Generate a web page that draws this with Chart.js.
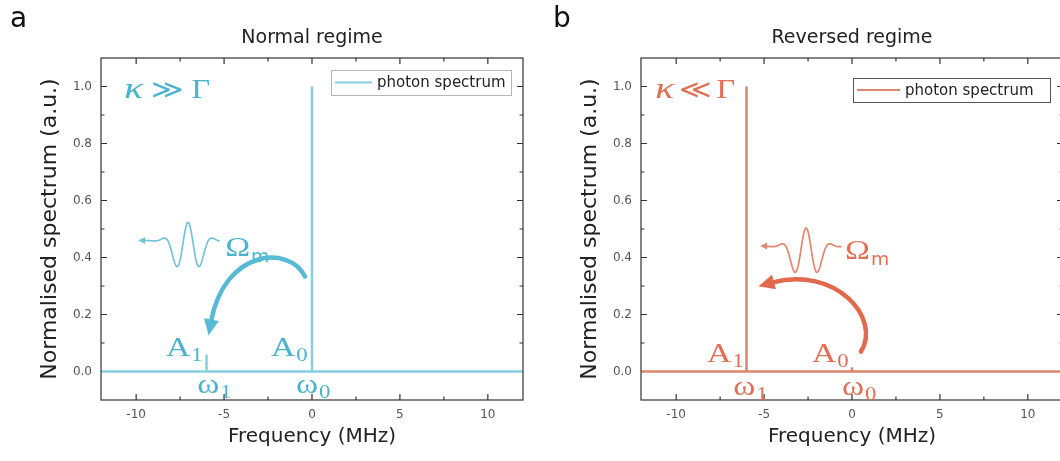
<!DOCTYPE html>
<html>
<head>
<meta charset="utf-8">
<script src="https://cdn.jsdelivr.net/npm/chart.js@4.4.1/dist/chart.umd.min.js"></script>
<style>
  html, body { margin: 0; padding: 0; background: #fff; overflow: hidden; }
  body { width: 1060px; height: 461px; position: relative; }
  .panel { position: absolute; top: 0; width: 540px; height: 461px; }
  #wrap-a { left: 0; }
  #wrap-b { left: 540px; }
</style>
</head>
<body>
<div class="panel" id="wrap-a"><canvas id="chart-a" width="540" height="461"></canvas></div>
<div class="panel" id="wrap-b"><canvas id="chart-b" width="540" height="461"></canvas></div>
<script>
// Axis ticks
const xTicks = [-10, -5, 0, 5, 10];
const yTicks = [0, 0.2, 0.4, 0.6, 0.8, 1.0];

// Photon spectrum, normal regime (peak at w0, tiny sideband at w1)
const freqNormal = [-12, -6, -6, -6, 0, 0, 0, 12];
const specNormal = [0, 0, 0.06, 0, 0, 1.0, 0, 0];

// Photon spectrum, reversed regime (peak at w1)
const freqReversed = [-12, -6, -6, -6, 0, 0, 0, 12];
const specReversed = [0, 0, 1.0, 0, 0, 0.015, 0, 0];

const seriesLabel = 'photon spectrum';
const xTitle = 'Frequency (MHz)';
const yTitle = 'Normalised spectrum (a.u.)';

const SERIF = '"Liberation Serif", "DejaVu Serif", serif';
const SANS = '"DejaVu Sans", sans-serif';

// draw text stretched horizontally, returns drawn width
function stretchText(ctx, str, x, y, font, sx) {
    ctx.save();
    ctx.translate(x, y);
    ctx.scale(sx, 1);
    ctx.font = font;
    ctx.fillText(str, 0, 0);
    const w = ctx.measureText(str).width * sx;
    ctx.restore();
    return w;
}

const decor = {
    id: 'decor',
    afterDraw(chart, args, o) {
        const { ctx, chartArea: a, scales: { x, y } } = chart;
        const px = v => x.getPixelForValue(v);
        const py = v => y.getPixelForValue(v);
        ctx.save();

        // frame + inward ticks on all four sides
        ctx.strokeStyle = '#333';
        ctx.lineWidth = 1.2;
        ctx.strokeRect(a.left, a.top, a.right - a.left, a.bottom - a.top);
        const xMinor = xTicks.slice(0, -1).map((v, i) => (v + xTicks[i + 1]) / 2);
        const yMinor = yTicks.slice(0, -1).map((v, i) => (v + yTicks[i + 1]) / 2);
        const tickX = (v, len) => {
            const p = px(v);
            ctx.beginPath();
            ctx.moveTo(p, a.bottom); ctx.lineTo(p, a.bottom - len);
            ctx.moveTo(p, a.top); ctx.lineTo(p, a.top + len);
            ctx.stroke();
        };
        const tickY = (v, len) => {
            const p = py(v);
            ctx.beginPath();
            ctx.moveTo(a.left, p); ctx.lineTo(a.left + len, p);
            ctx.moveTo(a.right, p); ctx.lineTo(a.right - len, p);
            ctx.stroke();
        };
        xTicks.forEach(v => tickX(v, 6));
        xMinor.forEach(v => tickX(v, 3.5));
        yTicks.filter(v => v !== 0).forEach(v => tickY(v, 6));
        yMinor.forEach(v => tickY(v, 3.5));

        // panel letter and title
        ctx.fillStyle = '#111';
        ctx.textBaseline = 'alphabetic';
        ctx.textAlign = 'left';
        ctx.font = '28px ' + SANS;
        ctx.fillText(o.letter, o.letterX, 27);
        ctx.fillStyle = '#222';
        ctx.font = '19px ' + SANS;
        ctx.textAlign = 'center';
        ctx.fillText(o.title, (a.left + a.right) / 2, 43);

        // legend box
        const lg = o.legend;
        const bx = a.right - lg.right - lg.w, by = a.top + lg.top;
        ctx.fillStyle = '#fff';
        ctx.fillRect(bx, by, lg.w, lg.h);
        ctx.strokeStyle = lg.border;
        ctx.lineWidth = 1;
        ctx.strokeRect(bx + 0.5, by + 0.5, lg.w, lg.h);
        const ds = chart.data.datasets[0];
        ctx.strokeStyle = ds.borderColor;
        ctx.lineWidth = 2;
        ctx.beginPath();
        ctx.moveTo(bx + 4, by + lg.h / 2);
        ctx.lineTo(bx + 4 + lg.sample, by + lg.h / 2);
        ctx.stroke();
        ctx.fillStyle = '#222';
        ctx.font = '15px ' + SANS;
        ctx.textAlign = 'left';
        ctx.textBaseline = 'middle';
        ctx.fillText(ds.label, bx + lg.sample + 9, by + lg.h / 2 + 1);

        // annotations
        const n = o.notes;
        ctx.textBaseline = 'alphabetic';
        ctx.textAlign = 'left';
        ctx.fillStyle = o.textColor;
        const sx = 1.2;

        // kappa relation
        let cx = px(n.relation.x);
        const cy = py(n.relation.y);
        cx += stretchText(ctx, 'κ', cx, cy, 'italic 29px ' + SERIF, 1.35) + n.relation.gap;
        cx += stretchText(ctx, n.relation.sym, cx, cy, '26px "DejaVu Serif", serif', 1.2) + n.relation.gap;
        stretchText(ctx, 'Γ', cx, cy, '28px ' + SERIF, 1.15);

        // A and omega labels with subscripts
        n.labels.forEach(l => {
            const lx = px(l.x), ly = py(l.y);
            const w = stretchText(ctx, l.t, lx, ly, '28px ' + SERIF, sx);
            stretchText(ctx, l.sub, lx + w + 1, ly + 5, '19px ' + SERIF, sx);
        });

        // Omega_m
        const ox = px(n.omega.x), oy = py(n.omega.y);
        const ow = stretchText(ctx, 'Ω', ox, oy, '28px ' + SERIF, sx);
        stretchText(ctx, 'm', ox + ow + 1, oy + 6, '17px ' + SANS, 1.1);

        // wave packet travelling left
        const tip = px(n.wave.tip), wc = px(n.wave.center), we = px(n.wave.end), wy = py(n.wave.y);
        ctx.strokeStyle = o.waveColor;
        ctx.lineWidth = 1.7;
        ctx.lineJoin = 'round';
        ctx.beginPath();
        for (let xx = tip; xx <= we; xx += 0.5) {
            const d = xx - wc;
            const env = Math.exp(-(d / 17) * (d / 17));
            const yy = wy + env * (12 - 30 * Math.cos(2 * Math.PI * d / 25));
            if (xx === tip) ctx.moveTo(xx, yy); else ctx.lineTo(xx, yy);
        }
        ctx.stroke();
        ctx.fillStyle = o.waveColor;
        ctx.beginPath();
        ctx.moveTo(tip - 2, wy);
        ctx.lineTo(tip + 5, wy - 3.5);
        ctx.lineTo(tip + 5, wy + 3.5);
        ctx.closePath();
        ctx.fill();

        // curved transfer arrow, head follows the end tangent
        const P = n.arrow.map(([vx, vy]) => [px(vx), py(vy)]);
        ctx.strokeStyle = o.arrowColor;
        ctx.fillStyle = o.arrowColor;
        ctx.lineWidth = 4.5;
        ctx.lineCap = 'round';
        ctx.beginPath();
        ctx.moveTo(P[0][0], P[0][1]);
        ctx.bezierCurveTo(P[1][0], P[1][1], P[2][0], P[2][1], P[3][0], P[3][1]);
        ctx.stroke();
        let dx = P[3][0] - P[2][0], dy = P[3][1] - P[2][1];
        const len = Math.hypot(dx, dy);
        dx /= len; dy /= len;
        const tx = P[3][0] + dx * 14, ty = P[3][1] + dy * 14;
        const bxh = P[3][0] - dx * 2, byh = P[3][1] - dy * 2;
        ctx.beginPath();
        ctx.moveTo(tx, ty);
        ctx.lineTo(bxh - dy * 7.5, byh + dx * 7.5);
        ctx.lineTo(bxh + dy * 7.5, byh - dx * 7.5);
        ctx.closePath();
        ctx.fill();

        ctx.restore();
    }
};

function makeChart(id, freq, spec, color, decorOpts) {
    return new Chart(document.getElementById(id), {
        type: 'line',
        data: {
            datasets: [{
                label: seriesLabel,
                data: freq.map((f, i) => ({ x: f, y: spec[i] })),
                borderColor: color,
                borderWidth: 2.5,
                pointRadius: 0,
                tension: 0
            }]
        },
        options: {
            responsive: false,
            animation: false,
            layout: { padding: { top: 58, right: 17, left: 0, bottom: 0 } },
            plugins: {
                legend: { display: false },
                tooltip: { enabled: false },
                decor: decorOpts
            },
            scales: {
                x: {
                    type: 'linear',
                    min: -12,
                    max: 12,
                    afterBuildTicks: s => { s.ticks = xTicks.map(v => ({ value: v })); },
                    afterFit: s => { s.height = 61; },
                    grid: { display: false, drawTicks: false },
                    border: { display: false },
                    ticks: {
                        padding: 8,
                        color: '#555',
                        font: { family: SANS, size: 12 },
                        maxRotation: 0,
                        autoSkip: false,
                        callback: v => String(v)
                    },
                    title: {
                        display: true,
                        text: xTitle,
                        color: '#222',
                        font: { family: SANS, size: 20 },
                        padding: { top: 0, bottom: 12 }
                    }
                },
                y: {
                    min: -0.1,
                    max: 1.1,
                    afterBuildTicks: s => { s.ticks = yTicks.map(v => ({ value: v })); },
                    afterFit: s => { s.width = 101; },
                    grid: { display: false, drawTicks: false },
                    border: { display: false },
                    ticks: {
                        padding: 9,
                        color: '#555',
                        font: { family: SANS, size: 12 },
                        autoSkip: false,
                        callback: v => Number(v).toFixed(1)
                    },
                    title: {
                        display: true,
                        text: yTitle,
                        color: '#222',
                        font: { family: SANS, size: 22 },
                        padding: { top: 37, bottom: 0 }
                    }
                }
            }
        },
        plugins: [decor]
    });
}

makeChart('chart-a', freqNormal, specNormal, '#86cfe1', {
    letter: 'a', letterX: 10, title: 'Normal regime',
    textColor: '#49b3cf', waveColor: '#74c3d9', arrowColor: '#58bbd6',
    legend: { right: 12, top: 12, w: 180, h: 25, sample: 37, border: '#b5b5b5' },
    notes: {
        relation: { x: -10.68, y: 0.961, sym: '≫', gap: 8 },
        labels: [
            { t: 'A', sub: '1', x: -8.30, y: 0.053 },
            { t: 'A', sub: '0', x: -2.33, y: 0.053 },
            { t: 'ω', sub: '1', x: -6.53, y: -0.077 },
            { t: 'ω', sub: '0', x: -0.91, y: -0.077 }
        ],
        omega: { x: -4.94, y: 0.407 },
        wave: { tip: -9.77, center: -7.05, end: -5.23, y: 0.46 },
        arrow: [[-0.40, 0.333], [-1.31, 0.446], [-5.0, 0.428], [-5.74, 0.175]]
    }
});

makeChart('chart-b', freqReversed, specReversed, '#dc8670', {
    letter: 'b', letterX: 13, title: 'Reversed regime',
    textColor: '#e06f55', waveColor: '#e3866e', arrowColor: '#e0694e',
    legend: { right: 13, top: 20, w: 197, h: 24, sample: 43, border: '#555' },
    notes: {
        relation: { x: -11.19, y: 0.961, sym: '≪', gap: 5 },
        labels: [
            { t: 'A', sub: '1', x: -8.24, y: 0.035 },
            { t: 'A', sub: '0', x: -2.27, y: 0.035 },
            { t: 'ω', sub: '1', x: -6.76, y: -0.084 },
            { t: 'ω', sub: '0', x: -0.57, y: -0.084 }
        ],
        omega: { x: -0.40, y: 0.393 },
        wave: { tip: -5.11, center: -2.61, end: -0.57, y: 0.44 },
        arrow: [[0.51, 0.070], [1.70, 0.189], [-0.97, 0.372], [-4.55, 0.312]]
    }
});
</script>
</body>
</html>
